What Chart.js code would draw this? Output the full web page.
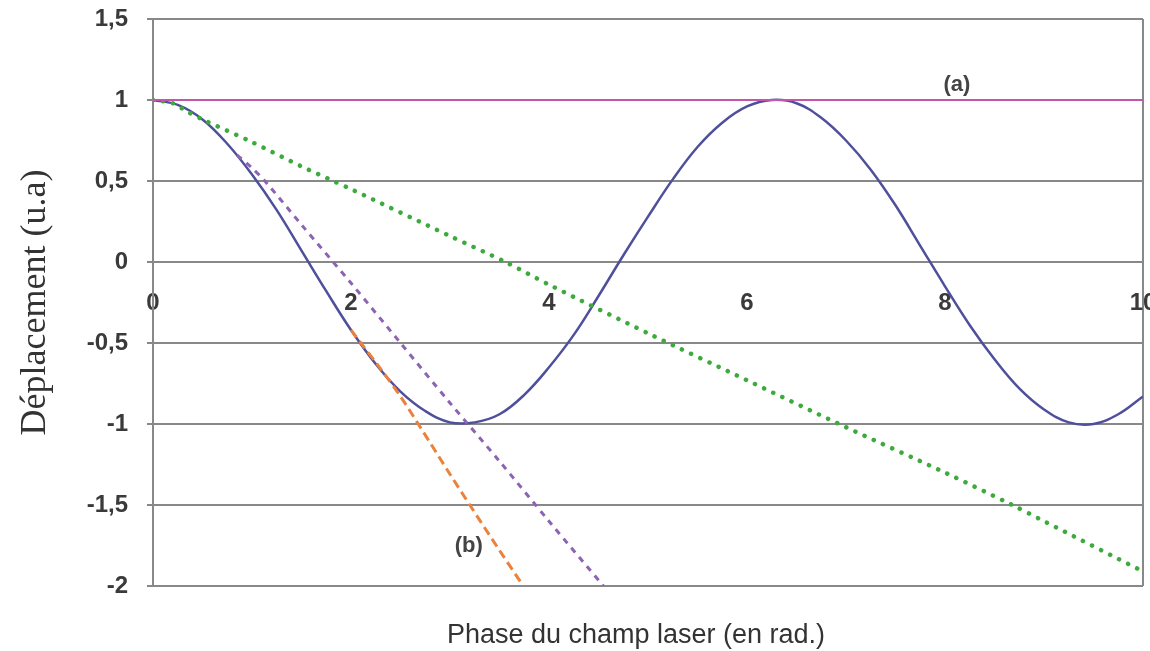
<!DOCTYPE html>
<html>
<head>
<meta charset="utf-8">
<script src="https://cdn.jsdelivr.net/npm/chart.js@4.4.1/dist/chart.umd.min.js"></script>
<style>
  html, body { margin: 0; padding: 0; background: #fff; }
  #wrap { width: 1150px; height: 651px; }
</style>
</head>
<body>
<div id="wrap"><canvas id="c" width="1150" height="651"></canvas></div>
<script>
// ---- values ----
const xTickValues = [0, 2, 4, 6, 8, 10];
const yTickValues = [-2, -1.5, -1, -0.5, 0, 0.5, 1, 1.5];

// solid curve
const solidX = [0, 0.25, 0.5, 0.75, 1, 1.25, 1.5, 1.75, 2, 2.25, 2.5, 2.75, 3, 3.25, 3.5, 3.75,
  4, 4.25, 4.5, 4.75, 5, 5.25, 5.5, 5.75, 6, 6.25, 6.5, 6.75, 7, 7.25, 7.5, 7.75,
  8, 8.25, 8.5, 8.75, 9, 9.25, 9.5, 9.75, 10];
const solidY = [1, 0.97, 0.88, 0.73, 0.54, 0.32, 0.07, -0.18, -0.42, -0.63, -0.8, -0.92, -0.99, -0.99, -0.94, -0.82,
  -0.65, -0.45, -0.21, 0.04, 0.28, 0.51, 0.71, 0.86, 0.96, 1.0, 0.98, 0.89, 0.75, 0.57, 0.35, 0.1,
  -0.15, -0.39, -0.6, -0.78, -0.91, -0.99, -1.0, -0.94, -0.83];

// (a) horizontal line
const lineAX = [0, 10];
const lineAY = [1, 1];

// green dotted
const dottedX = [0, 0.2, 0.34, 0.5, 1, 1.5, 1.82, 2, 3, 3.56, 4, 5, 6, 7, 8, 8.68, 9, 10];
const dottedY = [1, 0.98, 0.93, 0.88, 0.74, 0.59, 0.5, 0.45, 0.16, 0, -0.14, -0.44, -0.73, -1.02, -1.3, -1.5, -1.6, -1.91];

// purple dashed
const purpleX = [0.85, 1.0, 1.13, 1.5, 2, 2.5, 3, 3.5, 4, 4.55];
const purpleY = [0.66, 0.58, 0.5, 0.23, -0.13, -0.5, -0.87, -1.23, -1.6, -2];

// orange dashed (b)
const orangeX = [2.0, 2.1, 2.3, 2.5, 2.7, 3.0, 3.2, 3.5, 3.74];
const orangeY = [-0.42, -0.5, -0.66, -0.83, -1.02, -1.31, -1.5, -1.78, -2];

const pts = (xs, ys) => xs.map((x, i) => ({ x: x, y: ys[i] }));

const SANS = "'Liberation Sans', Arial, sans-serif";

// labels (a), (b) and x axis title
const textPlugin = {
  id: "texts",
  afterDraw(chart) {
    const ctx = chart.ctx;
    const xs = chart.scales.x;
    const ys = chart.scales.y;
    ctx.save();
    ctx.fillStyle = "#444";
    ctx.textAlign = "center";
    ctx.textBaseline = "middle";
    ctx.font = "bold 22px " + SANS;
    ctx.fillText("(a)", xs.getPixelForValue(8.12), ys.getPixelForValue(1.09));
    ctx.fillText("(b)", xs.getPixelForValue(3.19), ys.getPixelForValue(-1.75));
    ctx.fillStyle = "#333";
    ctx.font = "27px " + SANS;
    ctx.fillText("Phase du champ laser (en rad.)", 636, 636);
    ctx.restore();
  },
};

new Chart(document.getElementById("c"), {
  type: "line",
  data: {
    datasets: [
      {
        label: "(a)",
        data: pts(lineAX, lineAY),
        borderColor: "rgb(195, 85, 175)",
        borderWidth: 2,
        pointRadius: 0,
      },
      {
        label: "dotted",
        data: pts(dottedX, dottedY),
        borderColor: "rgb(60, 170, 60)",
        borderWidth: 4.5,
        borderDash: [0.1, 10],
        borderCapStyle: "round",
        tension: 0.3,
        pointRadius: 0,
      },
      {
        label: "purple",
        data: pts(purpleX, purpleY),
        borderColor: "rgb(140, 100, 180)",
        borderWidth: 3,
        borderDash: [6, 6],
        tension: 0.3,
        pointRadius: 0,
      },
      {
        label: "(b)",
        data: pts(orangeX, orangeY),
        borderColor: "rgb(235, 130, 60)",
        borderWidth: 3,
        borderDash: [9, 5],
        tension: 0.3,
        pointRadius: 0,
      },
      {
        label: "solid",
        data: pts(solidX, solidY),
        borderColor: "rgb(78, 80, 155)",
        borderWidth: 2.5,
        tension: 0.4,
        pointRadius: 0,
      },
    ],
  },
  options: {
    responsive: false,
    animation: false,
    layout: { padding: { left: 0, top: 19, right: 7, bottom: 65 } },
    plugins: {
      legend: { display: false },
      tooltip: { enabled: false },
    },
    scales: {
      x: {
        type: "linear",
        position: { y: 0 },
        min: 0,
        max: 10,
        afterBuildTicks: (scale) => {
          scale.ticks = xTickValues.map((v) => ({ value: v }));
        },
        afterFit: (scale) => {
          scale.paddingLeft = 0;
          scale.paddingRight = 0;
        },
        ticks: {
          color: "#3a3a3a",
          font: { family: SANS, size: 24, weight: "bold" },
          padding: 27,
          maxRotation: 0,
        },
        grid: {
          drawTicks: false,
          lineWidth: 2,
          color: (c) => (c.tick && c.tick.value === 10 ? "#888" : "rgba(0,0,0,0)"),
        },
        border: { display: false },
      },
      y: {
        min: -2,
        max: 1.5,
        afterBuildTicks: (scale) => {
          scale.ticks = yTickValues.map((v) => ({ value: v }));
        },
        afterFit: (scale) => {
          scale.width = 153;
          scale.paddingTop = 0;
          scale.paddingBottom = 0;
        },
        ticks: {
          color: "#3a3a3a",
          font: { family: SANS, size: 24, weight: "bold" },
          padding: 19,
          callback: (v) => String(v).replace(".", ","),
        },
        grid: {
          color: "#888",
          lineWidth: 2,
          tickLength: 6,
        },
        border: { color: "#888", width: 2 },
        title: {
          display: true,
          text: "Déplacement (u.a)",
          color: "#333",
          font: { family: "'Liberation Serif', 'Times New Roman', serif", size: 36 },
          padding: { top: 14, bottom: 0 },
        },
      },
    },
  },
  plugins: [textPlugin],
});
</script>
</body>
</html>
